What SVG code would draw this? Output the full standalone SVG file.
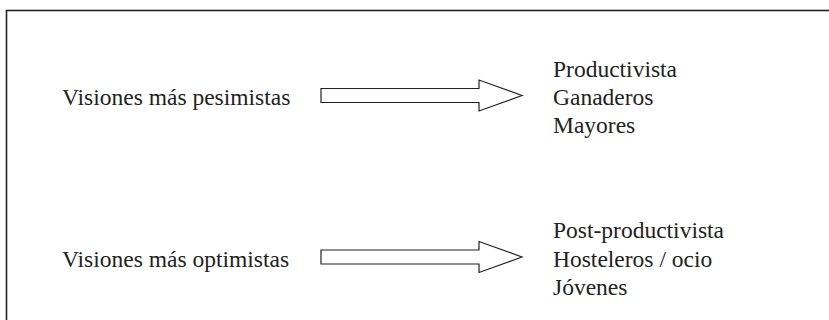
<svg xmlns="http://www.w3.org/2000/svg" width="829" height="320" viewBox="0 0 829 320">
  <style>
    .frame { fill: none; stroke: #222; stroke-width: 1.6; }
    .arrow { fill: #fff; stroke: #222; stroke-width: 1.2; stroke-linejoin: miter; }
    .lbl { font-family: "Liberation Serif", "Times New Roman", "DejaVu Serif", serif; font-size: 23.5px; fill: #222; }
  </style>
  <rect width="829" height="320" fill="#fff"/>
  <!-- outer frame, open to the right and bottom -->
  <rect class="frame" x="6.5" y="10.5" width="900" height="400"/>

  <g id="pesimistas">
    <text class="lbl" x="62" y="105">Visiones más pesimistas</text>
  </g>
  <g id="grupo-pesimista">
    <text class="lbl" x="553" y="76.5">Productivista</text>
    <text class="lbl" x="553" y="105">Ganaderos</text>
    <text class="lbl" x="553" y="133">Mayores</text>
  </g>

  <g id="optimistas">
    <text class="lbl" x="62" y="266.5">Visiones más optimistas</text>
  </g>
  <g id="grupo-optimista">
    <text class="lbl" x="553" y="238">Post-productivista</text>
    <text class="lbl" x="553" y="266.5">Hosteleros / ocio</text>
    <text class="lbl" x="553" y="294.5">Jóvenes</text>
  </g>

  <g id="connectors">
    <polygon class="arrow" points="321,88.5 479,88.5 479,80 522,95.5 479,111 479,102.5 321,102.5"/>
    <polygon class="arrow" points="321,250 479,250 479,241.5 522,257 479,272.5 479,264 321,264"/>
  </g>
</svg>
